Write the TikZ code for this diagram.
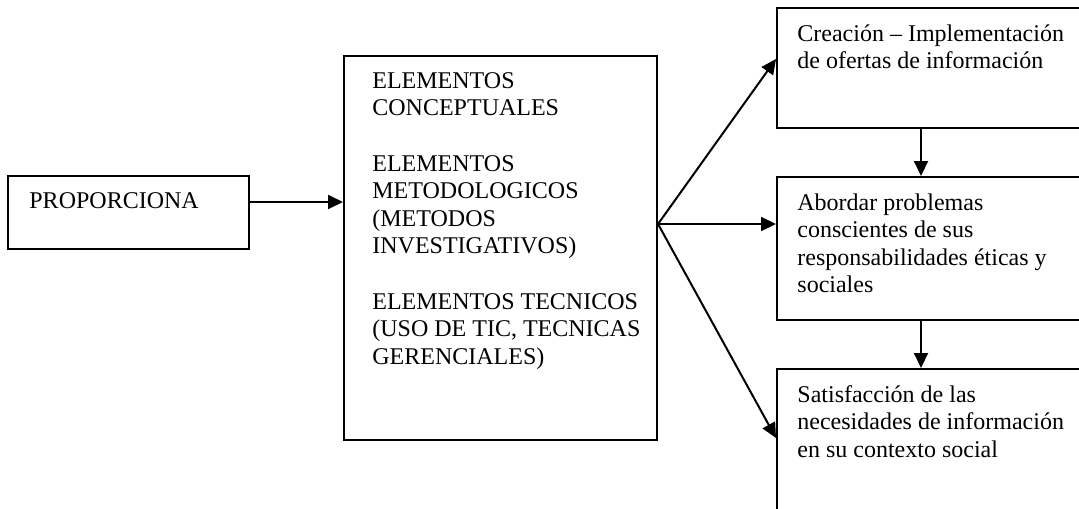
\documentclass[tikz,border=0pt]{standalone}
\usepackage{fontspec}
\setmainfont{Liberation Serif}
\usetikzlibrary{arrows.meta,positioning}

\begin{document}
\begin{tikzpicture}[x=0.5pt, y=-0.5pt,
    caja/.style={draw, line width=1pt, inner sep=0pt, anchor=north west},
    texto/.style={inner sep=0pt, anchor=north west, align=left,
                  font=\fontsize{12}{13.8}\selectfont},
    flecha/.style={line width=1pt, -{Triangle[length=7.5pt, width=7pt]}}]
      \useasboundingbox (0,0) rectangle (1079,508);
      \clip (0,0) rectangle (1079,508);
      % Cajas
      \node[caja, minimum width=120.5pt, minimum height=36.5pt] (prop) at (7,175) {};
      \node[caja, minimum width=156.5pt, minimum height=192pt]  (elem) at (343,55) {};
      \node[caja, minimum width=157pt,   minimum height=60pt]   (crea) at (776,7) {};
      \node[caja, minimum width=157pt,   minimum height=71.5pt] (abor) at (776,176) {};
      \node[caja, minimum width=157pt,   minimum height=81pt]   (sati) at (776,368) {};

      % Textos
      \node[texto, below right=8.5pt and 11pt of prop.north west] (tprop) {PROPORCIONA};
      \node[texto, below right=8.5pt and 14.5pt of elem.north west] (telem)
        {ELEMENTOS\\ CONCEPTUALES\\[13.8pt]
         ELEMENTOS\\ METODOLOGICOS\\ (METODOS\\ INVESTIGATIVOS)\\[13.8pt]
         ELEMENTOS TECNICOS\\ (USO DE TIC, TECNICAS\\ GERENCIALES)};
      \node[texto, below right=8.5pt and 10.5pt of crea.north west] (tcrea)
        {Creación – Implementación\\ de ofertas de información};
      \node[texto, below right=8.5pt and 10.5pt of abor.north west] (tabor)
        {Abordar problemas\\ conscientes de sus\\ responsabilidades éticas y\\ sociales};
      \node[texto, below right=8.5pt and 10.5pt of sati.north west] (tsati)
        {Satisfacción de las\\ necesidades de información\\ en su contexto social};

      % Flechas
      \draw[flecha] ([yshift=5.25pt]prop.east) -- ([yshift=5.25pt]prop.east -| elem.west);
      \coordinate (abanico) at ([yshift=12pt]elem.east);
      \draw[flecha] (abanico) -- ([yshift=4.5pt]crea.west);
      \draw[flecha] (abanico) -- (abanico -| abor.west);
      \draw[flecha] (abanico) -- ([yshift=6pt]sati.west);
      \draw[flecha] ([xshift=-6.5pt]crea.south) -- ([xshift=-6.5pt]abor.north);
      \draw[flecha] ([xshift=-6.5pt]abor.south) -- ([xshift=-6.5pt]sati.north);

    \end{tikzpicture}
\end{document}
